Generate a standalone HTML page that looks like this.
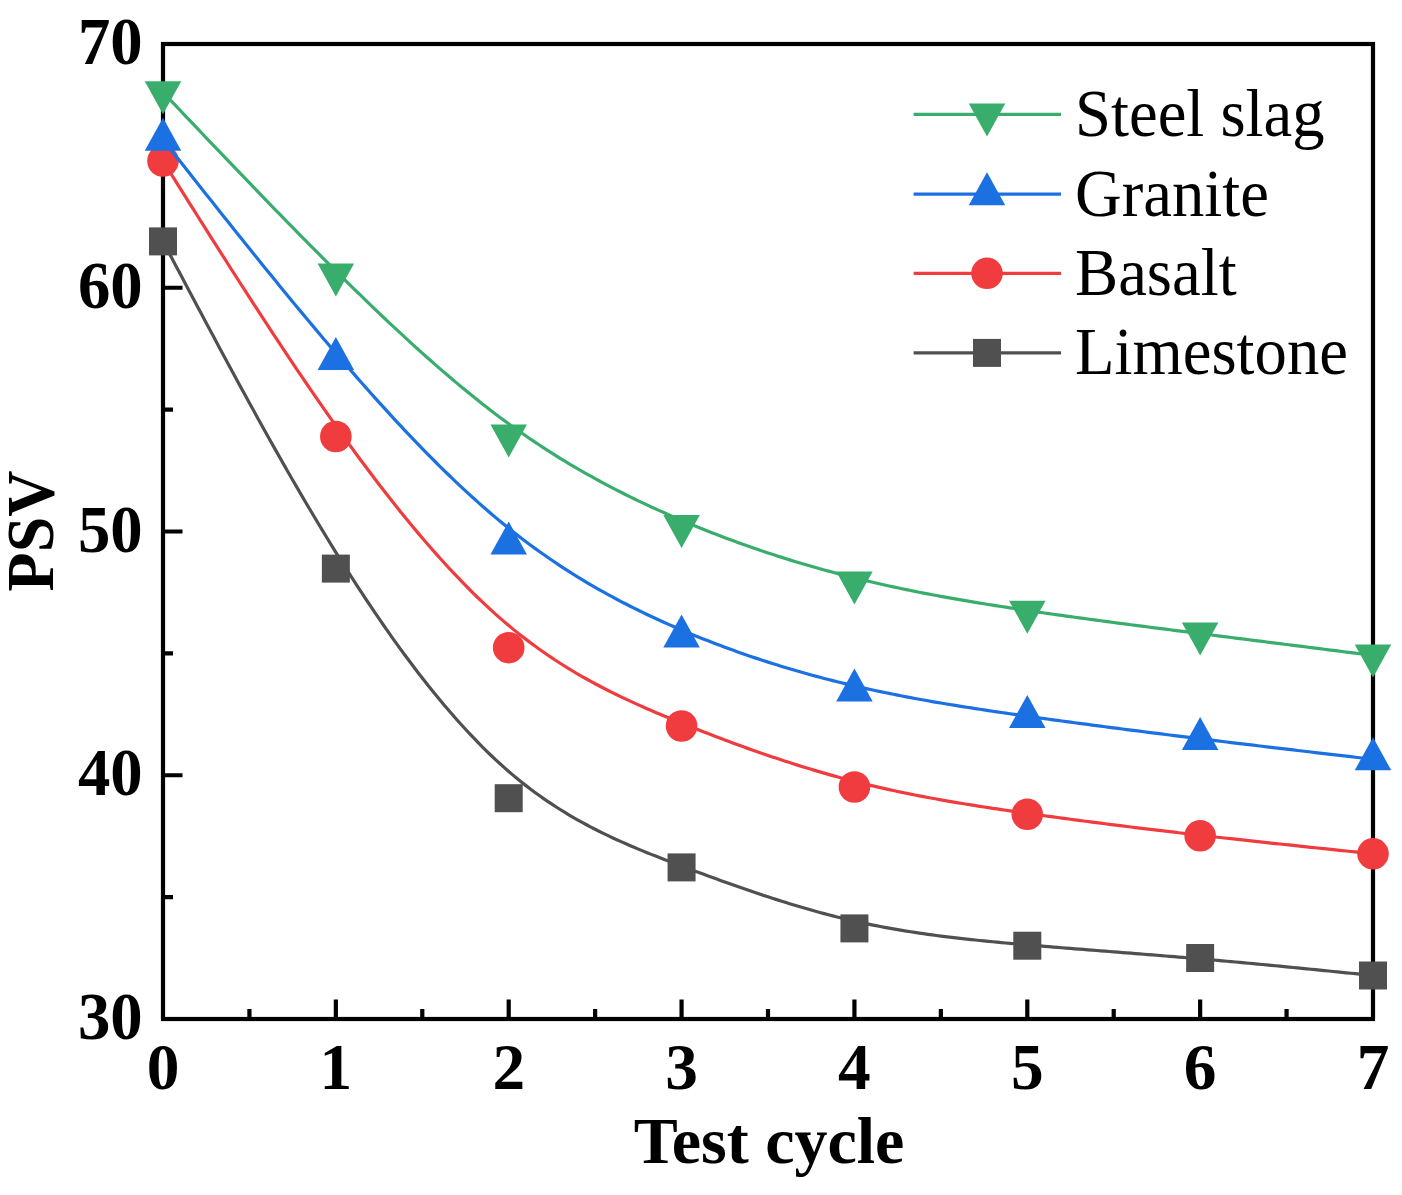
<!DOCTYPE html>
<html><head><meta charset="utf-8"><style>
html,body{margin:0;padding:0;background:#fff;}
body{width:1402px;height:1195px;overflow:hidden;font-family:"Liberation Serif",serif;}
svg{display:block;}
</style></head><body>
<svg width="1402" height="1195" viewBox="0 0 1402 1195"><rect x="163.00" y="44.00" width="1210.00" height="975.00" fill="none" stroke="#000" stroke-width="4.20"/>
<path d="M163.00 775.25 H182.50 M163.00 531.50 H182.50 M163.00 287.75 H182.50 M163.00 897.12 H173.00 M163.00 653.38 H173.00 M163.00 409.62 H173.00 M163.00 165.88 H173.00 M335.86 1019.00 V999.50 M508.71 1019.00 V999.50 M681.57 1019.00 V999.50 M854.43 1019.00 V999.50 M1027.29 1019.00 V999.50 M1200.14 1019.00 V999.50 M249.43 1019.00 V1009.00 M422.29 1019.00 V1009.00 M595.14 1019.00 V1009.00 M768.00 1019.00 V1009.00 M940.86 1019.00 V1009.00 M1113.71 1019.00 V1009.00 M1286.57 1019.00 V1009.00" stroke="#000" stroke-width="4.20" fill="none"/>
<path d="M163.00 241.40 L167.32 249.58 L171.64 257.76 L175.96 265.93 L180.29 274.10 L184.61 282.27 L188.93 290.43 L193.25 298.57 L197.57 306.71 L201.89 314.83 L206.21 322.95 L210.54 331.04 L214.86 339.12 L219.18 347.18 L223.50 355.22 L227.82 363.24 L232.14 371.24 L236.46 379.21 L240.79 387.16 L245.11 395.08 L249.43 402.97 L253.75 410.83 L258.07 418.65 L262.39 426.45 L266.71 434.21 L271.04 441.93 L275.36 449.61 L279.68 457.26 L284.00 464.86 L288.32 472.42 L292.64 479.94 L296.96 487.41 L301.29 494.83 L305.61 502.21 L309.93 509.53 L314.25 516.80 L318.57 524.02 L322.89 531.19 L327.21 538.29 L331.54 545.34 L335.86 552.33 L340.18 559.26 L344.50 566.13 L348.82 572.93 L353.14 579.67 L357.46 586.35 L361.79 592.96 L366.11 599.50 L370.43 605.98 L374.75 612.38 L379.07 618.72 L383.39 624.99 L387.71 631.18 L392.04 637.30 L396.36 643.35 L400.68 649.32 L405.00 655.22 L409.32 661.04 L413.64 666.78 L417.96 672.44 L422.29 678.02 L426.61 683.53 L430.93 688.95 L435.25 694.29 L439.57 699.54 L443.89 704.72 L448.21 709.80 L452.54 714.80 L456.86 719.71 L461.18 724.53 L465.50 729.27 L469.82 733.91 L474.14 738.46 L478.46 742.92 L482.79 747.29 L487.11 751.56 L491.43 755.74 L495.75 759.81 L500.07 763.80 L504.39 767.68 L508.71 771.47 L513.04 775.15 L517.36 778.74 L521.68 782.23 L526.00 785.63 L530.32 788.94 L534.64 792.16 L538.96 795.29 L543.29 798.34 L547.61 801.31 L551.93 804.20 L556.25 807.01 L560.57 809.75 L564.89 812.42 L569.21 815.02 L573.54 817.55 L577.86 820.02 L582.18 822.42 L586.50 824.77 L590.82 827.06 L595.14 829.29 L599.46 831.47 L603.79 833.60 L608.11 835.68 L612.43 837.71 L616.75 839.71 L621.07 841.66 L625.39 843.57 L629.71 845.45 L634.04 847.29 L638.36 849.11 L642.68 850.89 L647.00 852.65 L651.32 854.38 L655.64 856.09 L659.96 857.78 L664.29 859.46 L668.61 861.12 L672.93 862.76 L677.25 864.40 L681.57 866.03 L685.89 867.66 L690.21 869.28 L694.54 870.89 L698.86 872.50 L703.18 874.10 L707.50 875.69 L711.82 877.27 L716.14 878.84 L720.46 880.41 L724.79 881.96 L729.11 883.50 L733.43 885.03 L737.75 886.55 L742.07 888.06 L746.39 889.56 L750.71 891.04 L755.04 892.51 L759.36 893.96 L763.68 895.40 L768.00 896.82 L772.32 898.22 L776.64 899.61 L780.96 900.99 L785.29 902.34 L789.61 903.67 L793.93 904.99 L798.25 906.29 L802.57 907.56 L806.89 908.82 L811.21 910.06 L815.54 911.27 L819.86 912.46 L824.18 913.63 L828.50 914.77 L832.82 915.89 L837.14 916.99 L841.46 918.06 L845.79 919.11 L850.11 920.12 L854.43 921.12 L858.75 922.08 L863.07 923.02 L867.39 923.93 L871.71 924.82 L876.04 925.68 L880.36 926.52 L884.68 927.33 L889.00 928.12 L893.32 928.89 L897.64 929.64 L901.96 930.36 L906.29 931.07 L910.61 931.75 L914.93 932.42 L919.25 933.07 L923.57 933.69 L927.89 934.30 L932.21 934.90 L936.54 935.47 L940.86 936.04 L945.18 936.58 L949.50 937.11 L953.82 937.63 L958.14 938.13 L962.46 938.62 L966.79 939.10 L971.11 939.57 L975.43 940.03 L979.75 940.47 L984.07 940.91 L988.39 941.34 L992.71 941.76 L997.04 942.17 L1001.36 942.57 L1005.68 942.97 L1010.00 943.36 L1014.32 943.74 L1018.64 944.12 L1022.96 944.50 L1027.29 944.87 L1031.61 945.24 L1035.93 945.60 L1040.25 945.96 L1044.57 946.32 L1048.89 946.68 L1053.21 947.04 L1057.54 947.39 L1061.86 947.74 L1066.18 948.09 L1070.50 948.44 L1074.82 948.78 L1079.14 949.13 L1083.46 949.47 L1087.79 949.81 L1092.11 950.15 L1096.43 950.50 L1100.75 950.84 L1105.07 951.18 L1109.39 951.51 L1113.71 951.85 L1118.04 952.19 L1122.36 952.53 L1126.68 952.87 L1131.00 953.21 L1135.32 953.56 L1139.64 953.90 L1143.96 954.24 L1148.29 954.58 L1152.61 954.93 L1156.93 955.28 L1161.25 955.63 L1165.57 955.98 L1169.89 956.33 L1174.21 956.68 L1178.54 957.04 L1182.86 957.40 L1187.18 957.76 L1191.50 958.13 L1195.82 958.50 L1200.14 958.87 L1204.58 959.25 L1209.01 959.64 L1213.44 960.03 L1217.87 960.42 L1222.30 960.82 L1226.74 961.22 L1231.17 961.62 L1235.60 962.02 L1240.03 962.43 L1244.47 962.84 L1248.90 963.26 L1253.33 963.67 L1257.76 964.09 L1262.19 964.51 L1266.63 964.93 L1271.06 965.36 L1275.49 965.78 L1279.92 966.21 L1284.36 966.64 L1288.79 967.07 L1293.22 967.51 L1297.65 967.94 L1302.08 968.38 L1306.52 968.82 L1310.95 969.26 L1315.38 969.70 L1319.81 970.14 L1324.25 970.58 L1328.68 971.03 L1333.11 971.47 L1337.54 971.92 L1341.97 972.36 L1346.41 972.81 L1350.84 973.26 L1355.27 973.71 L1359.70 974.15 L1364.14 974.60 L1368.57 975.05 L1373.00 975.50" fill="none" stroke="#505050" stroke-width="3.20" stroke-linejoin="round"/>
<rect x="149.00" y="227.40" width="28.00" height="28.00" fill="#505050"/>
<rect x="321.86" y="554.60" width="28.00" height="28.00" fill="#505050"/>
<rect x="494.71" y="784.20" width="28.00" height="28.00" fill="#505050"/>
<rect x="667.57" y="853.40" width="28.00" height="28.00" fill="#505050"/>
<rect x="840.43" y="914.40" width="28.00" height="28.00" fill="#505050"/>
<rect x="1013.29" y="931.70" width="28.00" height="28.00" fill="#505050"/>
<rect x="1186.14" y="944.00" width="28.00" height="28.00" fill="#505050"/>
<rect x="1359.00" y="961.50" width="28.00" height="28.00" fill="#505050"/>
<path d="M163.00 161.00 L167.32 167.89 L171.64 174.77 L175.96 181.66 L180.29 188.54 L184.61 195.42 L188.93 202.29 L193.25 209.16 L197.57 216.01 L201.89 222.87 L206.21 229.71 L210.54 236.54 L214.86 243.36 L219.18 250.17 L223.50 256.97 L227.82 263.75 L232.14 270.51 L236.46 277.26 L240.79 284.00 L245.11 290.71 L249.43 297.41 L253.75 304.09 L258.07 310.74 L262.39 317.38 L266.71 323.99 L271.04 330.57 L275.36 337.13 L279.68 343.67 L284.00 350.17 L288.32 356.65 L292.64 363.10 L296.96 369.52 L301.29 375.91 L305.61 382.27 L309.93 388.59 L314.25 394.88 L318.57 401.14 L322.89 407.36 L327.21 413.54 L331.54 419.68 L335.86 425.78 L340.18 431.85 L344.50 437.87 L348.82 443.85 L353.14 449.79 L357.46 455.68 L361.79 461.52 L366.11 467.32 L370.43 473.08 L374.75 478.78 L379.07 484.43 L383.39 490.04 L387.71 495.59 L392.04 501.08 L396.36 506.53 L400.68 511.92 L405.00 517.25 L409.32 522.52 L413.64 527.74 L417.96 532.90 L422.29 537.99 L426.61 543.03 L430.93 548.00 L435.25 552.91 L439.57 557.75 L443.89 562.53 L448.21 567.24 L452.54 571.88 L456.86 576.45 L461.18 580.96 L465.50 585.39 L469.82 589.75 L474.14 594.03 L478.46 598.24 L482.79 602.38 L487.11 606.44 L491.43 610.42 L495.75 614.32 L500.07 618.15 L504.39 621.89 L508.71 625.55 L513.04 629.13 L517.36 632.62 L521.68 636.04 L526.00 639.38 L530.32 642.64 L534.64 645.83 L538.96 648.95 L543.29 652.00 L547.61 654.97 L551.93 657.89 L556.25 660.73 L560.57 663.51 L564.89 666.24 L569.21 668.90 L573.54 671.50 L577.86 674.05 L582.18 676.55 L586.50 678.99 L590.82 681.38 L595.14 683.72 L599.46 686.02 L603.79 688.27 L608.11 690.47 L612.43 692.64 L616.75 694.77 L621.07 696.85 L625.39 698.91 L629.71 700.92 L634.04 702.91 L638.36 704.86 L642.68 706.79 L647.00 708.69 L651.32 710.56 L655.64 712.41 L659.96 714.24 L664.29 716.05 L668.61 717.84 L672.93 719.61 L677.25 721.37 L681.57 723.12 L685.89 724.85 L690.21 726.58 L694.54 728.29 L698.86 729.99 L703.18 731.68 L707.50 733.36 L711.82 735.03 L716.14 736.68 L720.46 738.32 L724.79 739.95 L729.11 741.56 L733.43 743.16 L737.75 744.75 L742.07 746.32 L746.39 747.87 L750.71 749.42 L755.04 750.95 L759.36 752.46 L763.68 753.96 L768.00 755.44 L772.32 756.90 L776.64 758.35 L780.96 759.79 L785.29 761.20 L789.61 762.60 L793.93 763.98 L798.25 765.35 L802.57 766.70 L806.89 768.02 L811.21 769.34 L815.54 770.63 L819.86 771.90 L824.18 773.16 L828.50 774.39 L832.82 775.61 L837.14 776.80 L841.46 777.98 L845.79 779.13 L850.11 780.27 L854.43 781.38 L858.75 782.48 L863.07 783.55 L867.39 784.60 L871.71 785.63 L876.04 786.65 L880.36 787.64 L884.68 788.62 L889.00 789.58 L893.32 790.52 L897.64 791.44 L901.96 792.35 L906.29 793.24 L910.61 794.11 L914.93 794.97 L919.25 795.82 L923.57 796.64 L927.89 797.46 L932.21 798.26 L936.54 799.05 L940.86 799.83 L945.18 800.59 L949.50 801.34 L953.82 802.08 L958.14 802.81 L962.46 803.53 L966.79 804.24 L971.11 804.94 L975.43 805.63 L979.75 806.31 L984.07 806.98 L988.39 807.64 L992.71 808.30 L997.04 808.95 L1001.36 809.59 L1005.68 810.23 L1010.00 810.86 L1014.32 811.49 L1018.64 812.11 L1022.96 812.72 L1027.29 813.33 L1031.61 813.94 L1035.93 814.55 L1040.25 815.15 L1044.57 815.74 L1048.89 816.34 L1053.21 816.93 L1057.54 817.52 L1061.86 818.10 L1066.18 818.68 L1070.50 819.26 L1074.82 819.83 L1079.14 820.40 L1083.46 820.97 L1087.79 821.53 L1092.11 822.10 L1096.43 822.65 L1100.75 823.21 L1105.07 823.76 L1109.39 824.31 L1113.71 824.86 L1118.04 825.40 L1122.36 825.94 L1126.68 826.48 L1131.00 827.01 L1135.32 827.54 L1139.64 828.07 L1143.96 828.60 L1148.29 829.12 L1152.61 829.65 L1156.93 830.16 L1161.25 830.68 L1165.57 831.19 L1169.89 831.70 L1174.21 832.21 L1178.54 832.72 L1182.86 833.22 L1187.18 833.73 L1191.50 834.22 L1195.82 834.72 L1200.14 835.22 L1204.58 835.72 L1209.01 836.22 L1213.44 836.73 L1217.87 837.22 L1222.30 837.72 L1226.74 838.22 L1231.17 838.71 L1235.60 839.20 L1240.03 839.69 L1244.47 840.18 L1248.90 840.66 L1253.33 841.14 L1257.76 841.63 L1262.19 842.11 L1266.63 842.59 L1271.06 843.06 L1275.49 843.54 L1279.92 844.02 L1284.36 844.49 L1288.79 844.96 L1293.22 845.43 L1297.65 845.91 L1302.08 846.38 L1306.52 846.84 L1310.95 847.31 L1315.38 847.78 L1319.81 848.24 L1324.25 848.71 L1328.68 849.17 L1333.11 849.64 L1337.54 850.10 L1341.97 850.57 L1346.41 851.03 L1350.84 851.49 L1355.27 851.95 L1359.70 852.42 L1364.14 852.88 L1368.57 853.34 L1373.00 853.80" fill="none" stroke="#f03c3e" stroke-width="3.20" stroke-linejoin="round"/>
<circle cx="163.00" cy="161.00" r="15.80" fill="#f03c3e"/>
<circle cx="335.86" cy="436.50" r="15.80" fill="#f03c3e"/>
<circle cx="508.71" cy="647.70" r="15.80" fill="#f03c3e"/>
<circle cx="681.57" cy="726.00" r="15.80" fill="#f03c3e"/>
<circle cx="854.43" cy="787.00" r="15.80" fill="#f03c3e"/>
<circle cx="1027.29" cy="814.30" r="15.80" fill="#f03c3e"/>
<circle cx="1200.14" cy="835.80" r="15.80" fill="#f03c3e"/>
<circle cx="1373.00" cy="853.80" r="15.80" fill="#f03c3e"/>
<path d="M163.00 139.70 L167.32 145.18 L171.64 150.66 L175.96 156.14 L180.29 161.61 L184.61 167.09 L188.93 172.56 L193.25 178.03 L197.57 183.49 L201.89 188.95 L206.21 194.41 L210.54 199.86 L214.86 205.30 L219.18 210.74 L223.50 216.17 L227.82 221.60 L232.14 227.01 L236.46 232.42 L240.79 237.82 L245.11 243.20 L249.43 248.58 L253.75 253.95 L258.07 259.30 L262.39 264.65 L266.71 269.98 L271.04 275.30 L275.36 280.60 L279.68 285.89 L284.00 291.17 L288.32 296.43 L292.64 301.67 L296.96 306.90 L301.29 312.12 L305.61 317.31 L309.93 322.49 L314.25 327.65 L318.57 332.79 L322.89 337.91 L327.21 343.01 L331.54 348.09 L335.86 353.15 L340.18 358.19 L344.50 363.20 L348.82 368.20 L353.14 373.16 L357.46 378.11 L361.79 383.02 L366.11 387.91 L370.43 392.77 L374.75 397.61 L379.07 402.41 L383.39 407.18 L387.71 411.92 L392.04 416.63 L396.36 421.31 L400.68 425.95 L405.00 430.56 L409.32 435.13 L413.64 439.66 L417.96 444.16 L422.29 448.62 L426.61 453.04 L430.93 457.42 L435.25 461.75 L439.57 466.05 L443.89 470.30 L448.21 474.51 L452.54 478.67 L456.86 482.79 L461.18 486.86 L465.50 490.88 L469.82 494.86 L474.14 498.78 L478.46 502.66 L482.79 506.48 L487.11 510.25 L491.43 513.97 L495.75 517.64 L500.07 521.25 L504.39 524.80 L508.71 528.30 L513.04 531.74 L517.36 535.13 L521.68 538.46 L526.00 541.73 L530.32 544.95 L534.64 548.12 L538.96 551.23 L543.29 554.29 L547.61 557.31 L551.93 560.27 L556.25 563.18 L560.57 566.05 L564.89 568.86 L569.21 571.64 L573.54 574.36 L577.86 577.04 L582.18 579.68 L586.50 582.27 L590.82 584.82 L595.14 587.33 L599.46 589.79 L603.79 592.22 L608.11 594.61 L612.43 596.96 L616.75 599.27 L621.07 601.55 L625.39 603.79 L629.71 605.99 L634.04 608.16 L638.36 610.30 L642.68 612.41 L647.00 614.48 L651.32 616.52 L655.64 618.53 L659.96 620.51 L664.29 622.47 L668.61 624.39 L672.93 626.29 L677.25 628.17 L681.57 630.02 L685.89 631.84 L690.21 633.64 L694.54 635.42 L698.86 637.17 L703.18 638.90 L707.50 640.60 L711.82 642.28 L716.14 643.94 L720.46 645.58 L724.79 647.19 L729.11 648.78 L733.43 650.35 L737.75 651.90 L742.07 653.42 L746.39 654.92 L750.71 656.41 L755.04 657.86 L759.36 659.30 L763.68 660.72 L768.00 662.11 L772.32 663.49 L776.64 664.84 L780.96 666.18 L785.29 667.49 L789.61 668.79 L793.93 670.06 L798.25 671.31 L802.57 672.55 L806.89 673.76 L811.21 674.96 L815.54 676.13 L819.86 677.29 L824.18 678.43 L828.50 679.55 L832.82 680.66 L837.14 681.74 L841.46 682.81 L845.79 683.86 L850.11 684.89 L854.43 685.90 L858.75 686.90 L863.07 687.88 L867.39 688.84 L871.71 689.79 L876.04 690.72 L880.36 691.63 L884.68 692.53 L889.00 693.42 L893.32 694.29 L897.64 695.15 L901.96 695.99 L906.29 696.82 L910.61 697.64 L914.93 698.45 L919.25 699.24 L923.57 700.02 L927.89 700.79 L932.21 701.55 L936.54 702.30 L940.86 703.04 L945.18 703.77 L949.50 704.48 L953.82 705.19 L958.14 705.89 L962.46 706.59 L966.79 707.27 L971.11 707.95 L975.43 708.62 L979.75 709.28 L984.07 709.93 L988.39 710.58 L992.71 711.22 L997.04 711.86 L1001.36 712.49 L1005.68 713.12 L1010.00 713.75 L1014.32 714.36 L1018.64 714.98 L1022.96 715.59 L1027.29 716.20 L1031.61 716.81 L1035.93 717.41 L1040.25 718.01 L1044.57 718.61 L1048.89 719.21 L1053.21 719.80 L1057.54 720.39 L1061.86 720.98 L1066.18 721.57 L1070.50 722.15 L1074.82 722.73 L1079.14 723.31 L1083.46 723.89 L1087.79 724.46 L1092.11 725.04 L1096.43 725.61 L1100.75 726.18 L1105.07 726.74 L1109.39 727.31 L1113.71 727.87 L1118.04 728.43 L1122.36 728.99 L1126.68 729.55 L1131.00 730.10 L1135.32 730.66 L1139.64 731.21 L1143.96 731.76 L1148.29 732.31 L1152.61 732.85 L1156.93 733.40 L1161.25 733.94 L1165.57 734.48 L1169.89 735.02 L1174.21 735.56 L1178.54 736.10 L1182.86 736.64 L1187.18 737.17 L1191.50 737.70 L1195.82 738.24 L1200.14 738.77 L1204.58 739.31 L1209.01 739.85 L1213.44 740.39 L1217.87 740.93 L1222.30 741.47 L1226.74 742.01 L1231.17 742.54 L1235.60 743.08 L1240.03 743.61 L1244.47 744.14 L1248.90 744.67 L1253.33 745.20 L1257.76 745.73 L1262.19 746.26 L1266.63 746.79 L1271.06 747.32 L1275.49 747.85 L1279.92 748.37 L1284.36 748.90 L1288.79 749.42 L1293.22 749.94 L1297.65 750.47 L1302.08 750.99 L1306.52 751.51 L1310.95 752.03 L1315.38 752.55 L1319.81 753.07 L1324.25 753.60 L1328.68 754.11 L1333.11 754.63 L1337.54 755.15 L1341.97 755.67 L1346.41 756.19 L1350.84 756.71 L1355.27 757.23 L1359.70 757.75 L1364.14 758.26 L1368.57 758.78 L1373.00 759.30" fill="none" stroke="#1b70e2" stroke-width="3.20" stroke-linejoin="round"/>
<polygon points="163.00,117.70 181.25,150.70 144.75,150.70" fill="#1b70e2"/>
<polygon points="335.86,336.90 354.11,369.90 317.61,369.90" fill="#1b70e2"/>
<polygon points="508.71,521.60 526.96,554.60 490.46,554.60" fill="#1b70e2"/>
<polygon points="681.57,614.50 699.82,647.50 663.32,647.50" fill="#1b70e2"/>
<polygon points="854.43,668.50 872.68,701.50 836.18,701.50" fill="#1b70e2"/>
<polygon points="1027.29,694.90 1045.54,727.90 1009.04,727.90" fill="#1b70e2"/>
<polygon points="1200.14,717.10 1218.39,750.10 1181.89,750.10" fill="#1b70e2"/>
<polygon points="1373.00,737.30 1391.25,770.30 1354.75,770.30" fill="#1b70e2"/>
<path d="M163.00 92.30 L167.32 96.85 L171.64 101.41 L175.96 105.96 L180.29 110.52 L184.61 115.07 L188.93 119.62 L193.25 124.17 L197.57 128.71 L201.89 133.25 L206.21 137.80 L210.54 142.33 L214.86 146.87 L219.18 151.39 L223.50 155.92 L227.82 160.44 L232.14 164.95 L236.46 169.47 L240.79 173.97 L245.11 178.47 L249.43 182.96 L253.75 187.45 L258.07 191.92 L262.39 196.40 L266.71 200.86 L271.04 205.32 L275.36 209.76 L279.68 214.20 L284.00 218.63 L288.32 223.05 L292.64 227.47 L296.96 231.87 L301.29 236.26 L305.61 240.64 L309.93 245.01 L314.25 249.37 L318.57 253.72 L322.89 258.05 L327.21 262.37 L331.54 266.69 L335.86 270.98 L340.18 275.27 L344.50 279.54 L348.82 283.79 L353.14 288.03 L357.46 292.26 L361.79 296.47 L366.11 300.65 L370.43 304.83 L374.75 308.98 L379.07 313.11 L383.39 317.22 L387.71 321.31 L392.04 325.37 L396.36 329.41 L400.68 333.43 L405.00 337.43 L409.32 341.39 L413.64 345.34 L417.96 349.25 L422.29 353.14 L426.61 357.00 L430.93 360.82 L435.25 364.62 L439.57 368.39 L443.89 372.13 L448.21 375.83 L452.54 379.50 L456.86 383.13 L461.18 386.73 L465.50 390.30 L469.82 393.83 L474.14 397.32 L478.46 400.77 L482.79 404.19 L487.11 407.56 L491.43 410.90 L495.75 414.19 L500.07 417.44 L504.39 420.65 L508.71 423.82 L513.04 426.94 L517.36 430.02 L521.68 433.05 L526.00 436.04 L530.32 439.00 L534.64 441.90 L538.96 444.77 L543.29 447.60 L547.61 450.39 L551.93 453.14 L556.25 455.85 L560.57 458.53 L564.89 461.16 L569.21 463.76 L573.54 466.32 L577.86 468.85 L582.18 471.34 L586.50 473.80 L590.82 476.23 L595.14 478.62 L599.46 480.98 L603.79 483.30 L608.11 485.60 L612.43 487.86 L616.75 490.10 L621.07 492.30 L625.39 494.47 L629.71 496.62 L634.04 498.74 L638.36 500.83 L642.68 502.89 L647.00 504.92 L651.32 506.93 L655.64 508.92 L659.96 510.88 L664.29 512.82 L668.61 514.73 L672.93 516.62 L677.25 518.49 L681.57 520.33 L685.89 522.16 L690.21 523.96 L694.54 525.74 L698.86 527.50 L703.18 529.24 L707.50 530.96 L711.82 532.66 L716.14 534.34 L720.46 536.00 L724.79 537.64 L729.11 539.26 L733.43 540.85 L737.75 542.43 L742.07 543.99 L746.39 545.53 L750.71 547.05 L755.04 548.55 L759.36 550.03 L763.68 551.49 L768.00 552.93 L772.32 554.35 L776.64 555.75 L780.96 557.14 L785.29 558.50 L789.61 559.85 L793.93 561.18 L798.25 562.49 L802.57 563.78 L806.89 565.05 L811.21 566.31 L815.54 567.54 L819.86 568.76 L824.18 569.96 L828.50 571.15 L832.82 572.31 L837.14 573.46 L841.46 574.59 L845.79 575.71 L850.11 576.80 L854.43 577.88 L858.75 578.95 L863.07 579.99 L867.39 581.02 L871.71 582.04 L876.04 583.03 L880.36 584.02 L884.68 584.98 L889.00 585.94 L893.32 586.88 L897.64 587.80 L901.96 588.71 L906.29 589.61 L910.61 590.49 L914.93 591.36 L919.25 592.22 L923.57 593.07 L927.89 593.90 L932.21 594.72 L936.54 595.53 L940.86 596.33 L945.18 597.12 L949.50 597.90 L953.82 598.67 L958.14 599.42 L962.46 600.17 L966.79 600.91 L971.11 601.64 L975.43 602.37 L979.75 603.08 L984.07 603.78 L988.39 604.48 L992.71 605.17 L997.04 605.86 L1001.36 606.53 L1005.68 607.20 L1010.00 607.87 L1014.32 608.52 L1018.64 609.18 L1022.96 609.82 L1027.29 610.47 L1031.61 611.10 L1035.93 611.74 L1040.25 612.37 L1044.57 612.99 L1048.89 613.61 L1053.21 614.23 L1057.54 614.84 L1061.86 615.45 L1066.18 616.05 L1070.50 616.65 L1074.82 617.25 L1079.14 617.85 L1083.46 618.44 L1087.79 619.03 L1092.11 619.61 L1096.43 620.19 L1100.75 620.77 L1105.07 621.35 L1109.39 621.92 L1113.71 622.49 L1118.04 623.06 L1122.36 623.63 L1126.68 624.19 L1131.00 624.76 L1135.32 625.32 L1139.64 625.88 L1143.96 626.44 L1148.29 626.99 L1152.61 627.55 L1156.93 628.10 L1161.25 628.65 L1165.57 629.20 L1169.89 629.75 L1174.21 630.30 L1178.54 630.85 L1182.86 631.40 L1187.18 631.94 L1191.50 632.49 L1195.82 633.04 L1200.14 633.58 L1204.58 634.14 L1209.01 634.70 L1213.44 635.26 L1217.87 635.82 L1222.30 636.38 L1226.74 636.94 L1231.17 637.50 L1235.60 638.06 L1240.03 638.62 L1244.47 639.18 L1248.90 639.74 L1253.33 640.30 L1257.76 640.86 L1262.19 641.42 L1266.63 641.98 L1271.06 642.54 L1275.49 643.10 L1279.92 643.66 L1284.36 644.22 L1288.79 644.78 L1293.22 645.34 L1297.65 645.90 L1302.08 646.46 L1306.52 647.01 L1310.95 647.57 L1315.38 648.13 L1319.81 648.69 L1324.25 649.25 L1328.68 649.81 L1333.11 650.37 L1337.54 650.93 L1341.97 651.49 L1346.41 652.05 L1350.84 652.61 L1355.27 653.16 L1359.70 653.72 L1364.14 654.28 L1368.57 654.84 L1373.00 655.40" fill="none" stroke="#39ad6c" stroke-width="3.20" stroke-linejoin="round"/>
<polygon points="144.75,81.30 181.25,81.30 163.00,114.30" fill="#39ad6c"/>
<polygon points="317.61,263.50 354.11,263.50 335.86,296.50" fill="#39ad6c"/>
<polygon points="490.46,424.60 526.96,424.60 508.71,457.60" fill="#39ad6c"/>
<polygon points="663.32,515.00 699.82,515.00 681.57,548.00" fill="#39ad6c"/>
<polygon points="836.18,571.40 872.68,571.40 854.43,604.40" fill="#39ad6c"/>
<polygon points="1009.04,600.70 1045.54,600.70 1027.29,633.70" fill="#39ad6c"/>
<polygon points="1181.89,622.60 1218.39,622.60 1200.14,655.60" fill="#39ad6c"/>
<polygon points="1354.75,644.40 1391.25,644.40 1373.00,677.40" fill="#39ad6c"/>
<g font-family="Liberation Serif" font-weight="bold" font-size="66" fill="#000"><text transform="translate(142.6 1039.00) scale(0.98 1.035)" text-anchor="end">30</text><text transform="translate(142.6 795.25) scale(0.98 1.035)" text-anchor="end">40</text><text transform="translate(142.6 551.50) scale(0.98 1.035)" text-anchor="end">50</text><text transform="translate(142.6 307.75) scale(0.98 1.035)" text-anchor="end">60</text><text transform="translate(142.6 64.00) scale(0.98 1.035)" text-anchor="end">70</text><text transform="translate(163.00 1089.2) scale(0.99 0.985)" text-anchor="middle">0</text><text transform="translate(335.86 1089.2) scale(0.99 0.985)" text-anchor="middle">1</text><text transform="translate(508.71 1089.2) scale(0.99 0.985)" text-anchor="middle">2</text><text transform="translate(681.57 1089.2) scale(0.99 0.985)" text-anchor="middle">3</text><text transform="translate(854.43 1089.2) scale(0.99 0.985)" text-anchor="middle">4</text><text transform="translate(1027.29 1089.2) scale(0.99 0.985)" text-anchor="middle">5</text><text transform="translate(1200.14 1089.2) scale(0.99 0.985)" text-anchor="middle">6</text><text transform="translate(1373.00 1089.2) scale(0.99 0.985)" text-anchor="middle">7</text><text x="769.1" y="1163.2" text-anchor="middle">Test cycle</text><text transform="translate(53.0 531) rotate(-90) scale(0.97 1.01)" text-anchor="middle">PSV</text></g>
<path d="M913.60 114.40 H1061.00" stroke="#39ad6c" stroke-width="3.20"/>
<path d="M913.60 194.20 H1061.00" stroke="#1b70e2" stroke-width="3.20"/>
<path d="M913.60 273.30 H1061.00" stroke="#f03c3e" stroke-width="3.20"/>
<path d="M913.60 352.90 H1061.00" stroke="#505050" stroke-width="3.20"/>
<polygon points="968.75,103.40 1005.25,103.40 987.00,136.40" fill="#39ad6c"/>
<polygon points="987.00,172.20 1005.25,205.20 968.75,205.20" fill="#1b70e2"/>
<circle cx="987.00" cy="273.30" r="15.80" fill="#f03c3e"/>
<rect x="973.00" y="338.90" width="28.00" height="28.00" fill="#505050"/>
<g font-family="Liberation Serif" font-size="65" fill="#000"><text transform="translate(1075 135.90) scale(0.995 1.04)">Steel slag</text><text transform="translate(1075 215.70) scale(0.995 1.04)">Granite</text><text transform="translate(1075 294.80) scale(0.995 1.04)">Basalt</text><text transform="translate(1075 374.40) scale(0.995 1.04)">Limestone</text></g></svg>
</body></html>
